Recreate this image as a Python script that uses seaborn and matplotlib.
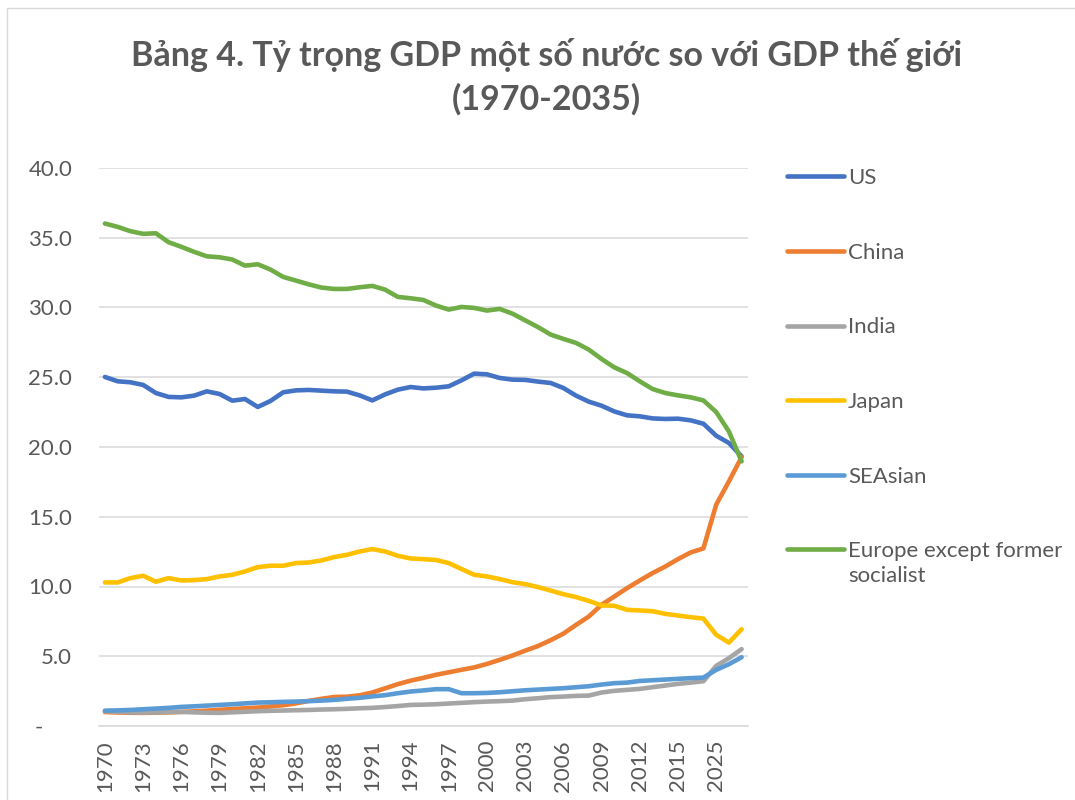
import numpy as np
import pandas as pd
import seaborn as sns
import matplotlib.pyplot as plt
from matplotlib.patches import Rectangle
from matplotlib.ticker import FuncFormatter

# categories: yearly 1970-2017, then projections
years = [str(y) for y in range(1970, 2018)] + ["2025", "2030", "2035"]

us = [25.02, 24.71, 24.64, 24.45, 23.87, 23.59, 23.56, 23.68, 23.99, 23.80,
      23.32, 23.44, 22.87, 23.30, 23.92, 24.06, 24.09, 24.04, 23.99, 23.97,
      23.70, 23.34, 23.77, 24.11, 24.30, 24.20, 24.25, 24.35, 24.78, 25.26,
      25.21, 24.95, 24.83, 24.81, 24.69, 24.59, 24.23, 23.68, 23.25, 22.96,
      22.55, 22.27, 22.20, 22.05, 22.01, 22.03, 21.91, 21.67, 20.81, 20.29,
      19.33]
china = [1.00, 0.97, 0.95, 0.94, 0.96, 0.98, 1.01, 1.05, 1.10, 1.16,
         1.22, 1.27, 1.32, 1.40, 1.49, 1.62, 1.80, 1.95, 2.08, 2.10,
         2.20, 2.40, 2.70, 3.00, 3.25, 3.45, 3.67, 3.85, 4.03, 4.20,
         4.45, 4.74, 5.05, 5.40, 5.73, 6.15, 6.62, 7.25, 7.85, 8.69,
         9.28, 9.88, 10.43, 10.96, 11.43, 11.96, 12.44, 12.73, 15.86, 17.53,
         19.28]
india = [1.06, 1.02, 0.98, 0.96, 0.98, 1.00, 1.01, 0.98, 0.95, 0.94,
         0.98, 1.02, 1.06, 1.09, 1.11, 1.13, 1.15, 1.18, 1.20, 1.23,
         1.27, 1.30, 1.36, 1.43, 1.51, 1.53, 1.56, 1.61, 1.66, 1.71,
         1.75, 1.78, 1.82, 1.92, 1.99, 2.07, 2.11, 2.16, 2.18, 2.40,
         2.52, 2.59, 2.66, 2.78, 2.90, 3.02, 3.11, 3.21, 4.31, 4.86,
         5.51]
japan = [10.29, 10.29, 10.60, 10.77, 10.34, 10.60, 10.43, 10.46, 10.53, 10.72,
         10.84, 11.08, 11.39, 11.49, 11.49, 11.68, 11.72, 11.87, 12.11, 12.27,
         12.51, 12.68, 12.51, 12.20, 12.01, 11.96, 11.90, 11.68, 11.25, 10.84,
         10.72, 10.53, 10.31, 10.17, 9.96, 9.71, 9.45, 9.24, 8.97, 8.64,
         8.62, 8.33, 8.28, 8.23, 8.04, 7.92, 7.80, 7.70, 6.54, 5.98,
         6.94]
seasian = [1.10, 1.12, 1.15, 1.20, 1.25, 1.30, 1.37, 1.41, 1.46, 1.51,
           1.56, 1.62, 1.68, 1.70, 1.73, 1.75, 1.78, 1.82, 1.87, 1.95,
           2.02, 2.12, 2.21, 2.35, 2.47, 2.55, 2.64, 2.64, 2.35, 2.35,
           2.37, 2.42, 2.49, 2.56, 2.61, 2.66, 2.71, 2.78, 2.85, 2.97,
           3.07, 3.11, 3.23, 3.28, 3.33, 3.38, 3.43, 3.47, 4.02, 4.43,
           4.93]
europe = [36.02, 35.78, 35.47, 35.28, 35.32, 34.68, 34.35, 33.99, 33.67, 33.60,
          33.44, 33.00, 33.10, 32.72, 32.19, 31.93, 31.66, 31.43, 31.33, 31.33,
          31.45, 31.55, 31.28, 30.76, 30.66, 30.54, 30.14, 29.85, 30.04, 29.97,
          29.78, 29.90, 29.56, 29.08, 28.60, 28.06, 27.75, 27.46, 26.98, 26.31,
          25.71, 25.30, 24.71, 24.16, 23.87, 23.70, 23.56, 23.34, 22.51, 21.12,
          18.97]

series = {
    "US": us,
    "China": china,
    "India": india,
    "Japan": japan,
    "SEAsian": seasian,
    "Europe except former socialist": europe,
}
colors = {
    "US": "#4472C4",
    "China": "#ED7D31",
    "India": "#A5A5A5",
    "Japan": "#FFC000",
    "SEAsian": "#5B9BD5",
    "Europe except former socialist": "#70AD47",
}

rows = []
for name, vals in series.items():
    for i, v in enumerate(vals):
        rows.append({"idx": i, "year": years[i], "country": name, "share": v})
df = pd.DataFrame(rows)

sns.set_style("white")
plt.rcParams["font.family"] = ["Lato", "DejaVu Sans"]
grey_text = "#595959"

fig = plt.figure(figsize=(10.75, 8), dpi=100)
ax = fig.add_axes([0.0917, 0.0925, 0.6041, 0.6975])

sns.lineplot(data=df, x="idx", y="share", hue="country", hue_order=list(series),
             palette=colors, linewidth=3.3, errorbar=None,
             solid_capstyle="round", solid_joinstyle="round", ax=ax)

ax.set_xlim(-0.5, len(years) - 0.5)
ax.set_ylim(0, 40)
ax.set_yticks(np.arange(0, 41, 5))
ax.yaxis.set_major_formatter(FuncFormatter(lambda v, p: "-     " if v == 0 else f"{v:.1f}"))
tick_pos = list(range(0, len(years), 3))
ax.set_xticks(tick_pos)
ax.set_xticklabels([years[i] for i in tick_pos], rotation=90)
ax.set_xlabel("")
ax.set_ylabel("")

ax.yaxis.grid(True, color="#D9D9D9", linewidth=1.1)
ax.set_axisbelow(True)
for s in ["top", "right", "left"]:
    ax.spines[s].set_visible(False)
ax.spines["bottom"].set_color("#D9D9D9")
ax.spines["bottom"].set_linewidth(1.1)
ax.tick_params(axis="y", length=0, pad=19, labelsize=16, colors=grey_text)
ax.tick_params(axis="x", length=0, pad=10, labelsize=16, colors=grey_text)

handles, labels = ax.get_legend_handles_labels()
labels = [l.replace("former socialist", "former\nsocialist") for l in labels]
for h in handles:
    h.set_solid_capstyle("round")
    h.set_linewidth(3.3)
leg = ax.legend(handles, labels, loc="upper left", bbox_to_anchor=(0.732, 0.79),
                bbox_transform=fig.transFigure, frameon=False, fontsize=16,
                handlelength=2.55, handletextpad=0.2, labelspacing=2.46,
                borderpad=0, borderaxespad=0)
for t in leg.get_texts():
    t.set_color(grey_text)
    t.set_linespacing(1.3)
# Excel puts the marker of a wrapped entry next to its first line
last = leg.legend_handles[-1]
last.set_ydata(np.asarray(last.get_ydata()) + 10.5)

fig.text(0.508, 0.904, "Bảng 4. Tỷ trọng GDP một số nước so với GDP thế giới\n(1970-2035)",
         ha="center", va="center", fontsize=24.5, fontweight="bold",
         color=grey_text, linespacing=1.4)

fig.patches.append(Rectangle((7 / 1075, -0.01), 1.1, 1 - 8 / 800 + 0.01,
                             transform=fig.transFigure, fill=False,
                             edgecolor="#D9D9D9", linewidth=1))

plt.savefig("out.png", dpi=100)
plt.close()
